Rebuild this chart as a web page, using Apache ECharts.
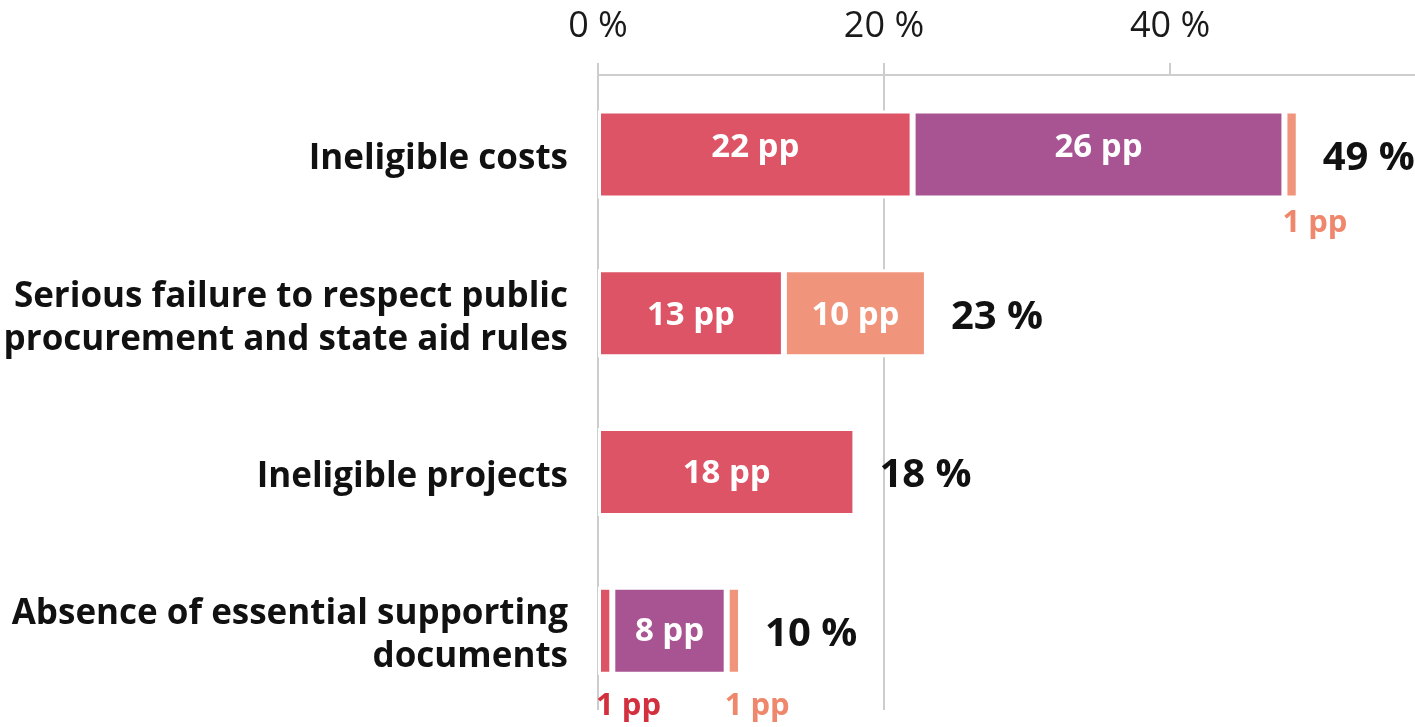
<!DOCTYPE html>
<html>
<head>
<meta charset="utf-8">
<title>Irregularities by type</title>
<script src="https://cdn.jsdelivr.net/npm/echarts@6/dist/echarts.min.js"></script>
<style>
  html, body { margin: 0; padding: 0; background: #ffffff; }
  #chart { width: 1415px; height: 727px; }
</style>
</head>
<body>
<div id="chart"></div>
<script>
// Categories (top to bottom) and the three stacked components, in percentage points
const categories = [
  'Ineligible costs',
  'Serious failure to respect public\nprocurement and state aid rules',
  'Ineligible projects',
  'Absence of essential supporting\ndocuments'
];
const partRed = [22, 13, 18, 1];
const partPurple = [26, 0, 0, 8];
const partSalmon = [1, 10, 0, 1];
const totals = [49, 23, 18, 10];
const xTickValues = [0, 20, 40];

const FONT = 'Open Sans';
const GRID_COLOR = '#cdcdcd';
// The visible axis ends a little past 57 %, at the right edge of the page
const X_MAX = 57.13;
// Vertical nudges (px) per row: labels inside the bars, and labels under narrow segments
const INSIDE_NUDGE = [-7, 2, 2, 1];
const BELOW_GAP = [9, 9, 9, 16];

// Segment colours and the colour of their outside ("1 pp") labels
const parts = [
  { name: 'red', values: partRed, color: '#dc5466', labelColor: '#d3303f' },
  { name: 'purple', values: partPurple, color: '#a85492', labelColor: '#a03d86' },
  { name: 'salmon', values: partSalmon, color: '#f0947c', labelColor: '#ee876c' }
];

// Wide segments are labelled inside; narrow ones carry their label underneath,
// left-aligned to the segment
function segmentData(values, labelColor) {
  return values.map((v, i) => {
    if (!(v > 0)) return '-';
    if (v >= 3) return { value: v, label: { offset: [0, INSIDE_NUDGE[i]] } };
    return {
      value: v,
      label: {
        position: ['0%', '100%'],
        align: 'left',
        verticalAlign: 'top',
        offset: [-2, BELOW_GAP[i]],
        color: labelColor,
        fontSize: 31
      }
    };
  });
}

const series = parts.map(p => ({
  name: p.name,
  type: 'bar',
  stack: 'total',
  barWidth: 88,
  data: segmentData(p.values, p.labelColor),
  itemStyle: { color: p.color, borderColor: '#ffffff', borderWidth: 3 },
  label: {
    show: true,
    position: 'inside',
    color: '#ffffff',
    fontFamily: FONT,
    fontWeight: 'bold',
    fontSize: 33,
    formatter: d => d.value + ' pp'
  },
  emphasis: { disabled: true },
  silent: true
}));

// Transparent overlay bar carrying the total at the end of each stack
series.push({
  name: 'total',
  type: 'bar',
  barWidth: 88,
  barGap: '-100%',
  data: totals,
  itemStyle: { color: 'rgba(0,0,0,0)' },
  label: {
    show: true,
    position: 'right',
    distance: 24,
    offset: [0, 4],
    color: '#111111',
    fontFamily: FONT,
    fontWeight: 'bold',
    fontSize: 40,
    formatter: d => d.value + ' %'
  },
  emphasis: { disabled: true },
  silent: true,
  z: 1
});

const chart = echarts.init(document.getElementById('chart'), null, { renderer: 'canvas' });
chart.setOption({
  animation: false,
  backgroundColor: '#ffffff',
  grid: { left: 598, top: 75, bottom: 17, right: 0, containLabel: false },
  xAxis: {
    type: 'value',
    position: 'top',
    min: 0,
    max: X_MAX,
    interval: 20,
    axisLine: { show: true, lineStyle: { color: GRID_COLOR, width: 2 } },
    axisTick: {
      show: true,
      length: 12,
      lineStyle: { color: GRID_COLOR, width: 2 },
      customValues: xTickValues
    },
    splitLine: { show: true, showMaxLine: false, lineStyle: { color: GRID_COLOR, width: 2 } },
    axisLabel: {
      margin: 30,
      color: '#1a1a1a',
      fontFamily: FONT,
      fontSize: 36,
      customValues: xTickValues,
      formatter: v => v + ' %'
    }
  },
  yAxis: {
    type: 'category',
    inverse: true,
    data: categories,
    axisLine: { show: false },
    axisTick: { show: false },
    axisLabel: {
      margin: 30,
      align: 'right',
      // a thin spacer line on top pushes each label block slightly downwards
      formatter: v => '{pad| }\n' + v.split('\n').map(s => '{t|' + s + '}').join('\n'),
      rich: {
        pad: { fontSize: 1, lineHeight: 10 },
        t: {
          color: '#111111',
          fontFamily: FONT,
          fontWeight: 'bold',
          fontSize: 35,
          lineHeight: 43,
          align: 'right'
        }
      }
    }
  },
  series: series
});
</script>
</body>
</html>
